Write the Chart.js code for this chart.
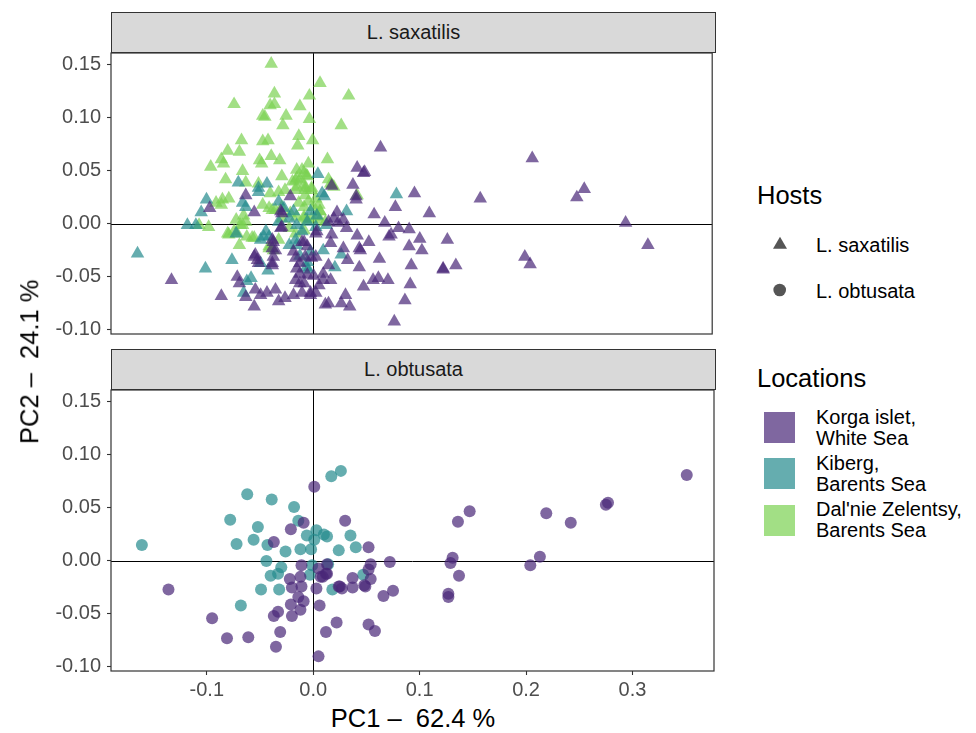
<!DOCTYPE html>
<html>
<head>
<meta charset="utf-8">
<script src="https://cdn.jsdelivr.net/npm/chart.js@4.4.1/dist/chart.umd.min.js"></script>
<style>
  body { margin: 0; background: #fff; font-family: "Liberation Sans", Arial, sans-serif; }
  #wrap { position: relative; width: 976px; height: 733px; overflow: hidden; }
  canvas { position: absolute; left: 0; }
  .strip { position: absolute; left: 111px; width: 605px; height: 41px; box-sizing: border-box;
           background: #d9d9d9; border: 1.2px solid #333; color: #1a1a1a; font-size: 20px;
           text-align: center; line-height: 39px; }
  .txt { position: absolute; white-space: pre; color: #000; }
  .leg { position: absolute; left: 816px; font-size: 20px; line-height: 21px; color: #000; white-space: pre; }
  .sq { position: absolute; left: 764px; width: 31px; height: 31px; }
</style>
</head>
<body>
<div id="wrap">
  <div class="strip" style="top:12px">L. saxatilis</div>
  <div class="strip" style="top:349px">L. obtusata</div>
  <canvas id="topPanel" width="720" height="317" style="top:35px"></canvas>
  <canvas id="botPanel" width="720" height="330" style="top:372px"></canvas>

  <div class="txt" id="xTitle" style="left:113px;width:600px;text-align:center;top:706px;font-size:25.5px;line-height:25.5px"></div>
  <div class="txt" id="yTitle" style="left:-170px;width:400px;text-align:center;top:349px;font-size:25.5px;line-height:25.5px;transform:rotate(-90deg)"></div>

  <div class="txt" style="left:757px;top:183px;font-size:25.5px;line-height:25.5px">Hosts</div>
  <svg style="position:absolute;left:760px;top:230px" width="40" height="75">
    <polygon points="13,18.7 27,18.7 20,6.7" fill="#555"/>
    <circle cx="19.7" cy="60" r="6.3" fill="#555"/>
  </svg>
  <div class="leg" style="top:235px;line-height:20px">L. saxatilis</div>
  <div class="leg" style="top:281px;line-height:20px">L. obtusata</div>

  <div class="txt" style="left:757px;top:366px;font-size:25.5px;line-height:25.5px">Locations</div>
  <div class="sq" style="top:412px;background:rgba(72,38,119,0.7)"></div>
  <div class="sq" style="top:458px;background:rgba(35,138,141,0.7)"></div>
  <div class="sq" style="top:505px;background:rgba(122,209,81,0.7)"></div>
  <div class="leg" style="top:407px">Korga islet,
White Sea</div>
  <div class="leg" style="top:453px">Kiberg,
Barents Sea</div>
  <div class="leg" style="top:499px">Dal'nie Zelentsy,
Barents Sea</div>
</div>

<script>
// axis ranges and ticks
const X_MIN = -0.190, X_MAX = 0.3766;
const Y_MIN = -0.1038, Y_MAX = 0.1613;
const xTicks = [-0.1, 0, 0.1, 0.2, 0.3];
const yTicks = [-0.10, -0.05, 0, 0.05, 0.10, 0.15];
const xTitle = "PC1 \u2013  62.4 %";
const yTitle = "PC2 \u2013  24.1 %";

const locations = ["Korga islet, White Sea", "Kiberg, Barents Sea", "Dal'nie Zelentsy, Barents Sea"];
const locColors = ["rgba(72,38,119,0.7)", "rgba(35,138,141,0.7)", "rgba(122,209,81,0.7)"];

// L. saxatilis (triangles), [PC1, PC2]
const saxKorga = [
  [0.064,0.072],[0.042,0.053],[0.048,0.048],[0.049,0.049],[0.038,0.037],[0.018,0.036],[0.096,0.029],[0.158,0.024],
  [0.041,0.026],[0.041,0.023],[0.078,0.016],[0.058,0.009],[0.110,0.010],[0.023,0.011],[0.068,0.001],[0.081,-0.004],
  [0.074,-0.010],[0.072,-0.012],[0.091,-0.005],[0.101,-0.014],[0.127,-0.015],[0.091,-0.021],[0.103,-0.025],[0.053,-0.017],
  [0.042,-0.011],[0.044,-0.023],[0.045,-0.025],[0.017,-0.018],[0.029,-0.023],[0.033,-0.034],[0.063,-0.033],[0.044,-0.041],
  [0.093,-0.039],[0.123,-0.042],[0.123,-0.043],[0.135,-0.039],[0.015,-0.039],[0.010,-0.047],[0.017,-0.053],[0.057,-0.053],
  [0.062,-0.051],[0.071,-0.053],[0.048,-0.059],[0.092,-0.057],[0.087,-0.072],[0.077,-0.092],[0.031,-0.067],[0.027,-0.075],
  [0.035,-0.078],[0.015,-0.075],[0.012,-0.076],[0.003,-0.065],[-0.002,-0.067],[0.003,-0.031],[-0.001,-0.032],[0.207,0.062],
  [0.256,0.033],[0.249,0.025],[0.295,0.001],[0.316,-0.020],[0.200,-0.031],[0.205,-0.038],[-0.097,0.015],[-0.063,0.027],
  [-0.055,0.011],[-0.133,-0.053],[-0.086,-0.068],[-0.055,-0.031],[-0.052,-0.034],[-0.038,-0.039],[-0.071,-0.050],[-0.069,-0.056],
  [-0.054,-0.062],[-0.049,-0.067],[-0.043,-0.065],[-0.035,-0.062],[-0.032,-0.073],[-0.055,-0.078],[-0.063,-0.069],[-0.018,-0.067],
  [-0.010,-0.065],[-0.002,-0.065],[-0.038,-0.015],[-0.035,-0.025],[-0.030,0.012],[-0.029,0.010],[-0.021,0.026],[-0.018,-0.026],
  [-0.015,-0.042],[-0.010,-0.017],[-0.016,-0.053],[-0.012,-0.056],[0.003,-0.009],[-0.026,-0.070],[-0.054,-0.029],[-0.051,-0.037],
  [-0.038,-0.037],[-0.037,-0.031],[-0.038,-0.023],[-0.037,-0.017],[-0.030,-0.004],[-0.029,-0.003],[-0.016,-0.032],[-0.012,-0.037],
  [-0.008,-0.017],[-0.005,-0.021],[-0.007,-0.031],[-0.012,-0.047],[-0.005,-0.048],[-0.008,-0.056],[0.006,-0.058],[0.004,-0.007],
  [0.020,0.005],[0.029,0.004],[0.032,-0.004],[0.024,0.001],[0.015,0.002],[0.018,-0.010],[0.001,-0.049],[0.010,-0.053]
];
const saxKiberg = [
  [-0.070,0.039],[0.005,0.047],[-0.043,0.038],[0.079,0.028],[-0.165,-0.028],[-0.101,-0.042],[-0.118,-0.001],[-0.110,-0.001],
  [-0.105,0.011],[-0.076,-0.034],[-0.066,0.020],[-0.051,0.030],[-0.058,-0.051],[-0.049,-0.037],[-0.065,-0.065],[-0.042,-0.044],
  [-0.046,-0.012],[-0.072,-0.009],[-0.100,0.023],[-0.063,0.016],[-0.051,0.034],[-0.041,-0.012],[-0.049,-0.015],[-0.044,-0.007],
  [-0.032,0.021],[-0.027,0.015],[-0.032,0.002],[-0.022,0.005],[-0.018,0.012],[-0.015,-0.001],[-0.010,-0.007],[-0.005,0.002],
  [-0.002,0.012],[0.003,-0.003],[0.004,0.008],[-0.022,-0.020],[-0.016,-0.015],[-0.002,-0.026],[-0.005,-0.036],[-0.004,-0.043],
  [-0.062,-0.054],[0.011,0.026],[0.009,0.029],[0.032,0.012],[0.027,-0.029],[0.021,-0.041],[0.013,-0.001],[-0.015,-0.020],
  [-0.012,-0.030],[-0.006,-0.041],[0.010,-0.025]
];
const saxDalnie = [
  [-0.039,0.151],[-0.074,0.113],[-0.036,0.123],[-0.040,0.112],[-0.036,0.113],[-0.003,0.121],[-0.012,0.111],[-0.047,0.102],
  [-0.045,0.101],[-0.025,0.102],[-0.028,0.093],[-0.003,0.099],[-0.067,0.079],[-0.047,0.078],[-0.042,0.079],[-0.013,0.083],
  [-0.014,0.074],[0.000,0.079],[-0.080,0.069],[-0.069,0.068],[-0.086,0.061],[-0.084,0.057],[-0.096,0.054],[-0.050,0.060],
  [-0.048,0.057],[-0.039,0.064],[-0.031,0.060],[-0.066,0.050],[-0.082,0.042],[-0.004,0.057],[-0.029,0.045],[-0.063,0.039],
  [-0.051,0.038],[-0.016,0.041],[-0.010,0.051],[-0.006,0.046],[0.007,0.133],[0.034,0.121],[0.027,0.093],[0.014,0.061],
  [0.015,0.042],[0.018,0.037],[0.042,0.027],[-0.098,-0.003],[-0.107,-0.001],[-0.091,0.020],[-0.086,0.018],[-0.080,-0.009],
  [-0.074,-0.007],[-0.069,-0.020],[-0.063,0.002],[-0.066,-0.001],[-0.057,-0.013],[-0.041,-0.021],[-0.038,0.013],[-0.029,0.016],
  [-0.021,0.010],[-0.015,0.035],[-0.007,0.034],[-0.016,-0.009],[-0.008,-0.006],[-0.085,0.023],[-0.079,0.024],[-0.072,0.004],
  [-0.068,-0.001],[-0.065,0.008],[-0.079,-0.010],[-0.071,-0.009],[-0.062,-0.012],[-0.055,-0.013],[-0.041,-0.023],[-0.037,-0.025],
  [-0.047,0.018],[-0.041,0.015],[-0.035,0.013],[-0.040,0.029],[-0.032,0.030],[-0.026,0.032],[-0.029,0.005],[-0.022,-0.004],
  [-0.032,-0.015],[-0.019,0.040],[-0.015,0.043],[-0.008,0.037],[-0.016,0.032],[-0.007,0.027],[-0.001,0.034],[0.003,0.024],
  [0.006,0.018],[0.007,0.012],[-0.013,0.020],[-0.008,0.016],[-0.004,0.021],[-0.015,0.007],[-0.008,0.005],[-0.001,0.005],
  [0.007,0.004],[-0.015,0.051],[-0.008,0.048],[-0.012,0.042],[-0.005,0.045],[0.017,0.038],[0.020,0.035],[-0.007,0.032],
  [-0.001,0.032],[0.001,0.016],[0.007,0.012],[0.004,0.007],[0.012,0.002],[-0.005,0.004],[-0.008,0.007]
];

// L. obtusata (circles)
const obtKorga = [
  [0.001,0.070],[-0.009,0.036],[-0.021,0.030],[-0.037,0.018],[0.030,0.038],[0.052,0.013],[0.072,-0.001],[0.054,-0.003],
  [0.052,-0.008],[-0.011,-0.004],[0.005,-0.007],[0.013,-0.012],[0.007,-0.015],[-0.022,-0.017],[-0.012,-0.015],[0.054,-0.017],
  [0.048,-0.023],[0.037,-0.016],[0.037,-0.025],[0.027,-0.026],[0.024,-0.024],[0.049,-0.024],[-0.020,-0.025],[-0.011,-0.024],
  [0.003,-0.026],[0.066,-0.033],[0.075,-0.028],[-0.014,-0.034],[-0.009,-0.038],[-0.021,-0.041],[-0.012,-0.046],[0.006,-0.042],
  [-0.033,-0.048],[-0.037,-0.052],[-0.020,-0.052],[0.022,-0.058],[0.012,-0.067],[0.052,-0.060],[0.058,-0.066],[-0.031,-0.067],
  [-0.061,-0.072],[-0.081,-0.073],[-0.095,-0.054],[-0.136,-0.027],[-0.035,-0.081],[0.005,-0.090],[0.351,0.081],[0.277,0.055],
  [0.275,0.053],[0.219,0.045],[0.242,0.036],[0.147,0.047],[0.136,0.037],[0.131,0.003],[0.129,-0.002],[0.137,-0.014],
  [0.127,-0.031],[0.127,-0.034],[0.213,0.004],[0.204,-0.004],[0.025,-0.024],[0.013,-0.003],[0.012,-0.012],[0.009,-0.015]
];
const obtKiberg = [
  [-0.161,0.015],[-0.062,0.063],[-0.039,0.058],[-0.018,0.051],[-0.078,0.039],[-0.052,0.032],[-0.072,0.016],[-0.056,0.020],
  [-0.043,0.015],[-0.026,0.009],[-0.012,0.011],[-0.014,0.038],[-0.006,0.024],[0.003,0.029],[0.010,0.025],[0.013,0.023],
  [0.001,0.020],[-0.002,0.011],[0.024,0.010],[0.035,0.024],[0.040,0.013],[0.017,0.080],[0.026,0.085],[-0.044,0.000],
  [-0.030,-0.006],[-0.033,-0.012],[-0.040,-0.014],[-0.049,-0.027],[-0.032,-0.027],[-0.068,-0.042],[-0.003,-0.013],[0.014,-0.003],
  [0.018,-0.027],[0.047,-0.013],[-0.001,-0.004]
];

const FONT = "'Liberation Sans', Arial, sans-serif";
document.getElementById("xTitle").textContent = xTitle;
document.getElementById("yTitle").textContent = yTitle;

// zero lines + panel border
const panelDecor = {
  id: "panelDecor",
  beforeDatasetsDraw(chart) {
    const { ctx, chartArea: a, scales } = chart;
    const x0 = Math.round(scales.x.getPixelForValue(0)) + 0.5;
    const y0 = Math.round(scales.y.getPixelForValue(0)) + 0.5;
    ctx.save();
    ctx.strokeStyle = "#000";
    ctx.lineWidth = 1;
    ctx.beginPath();
    ctx.moveTo(x0, a.top); ctx.lineTo(x0, a.bottom);
    ctx.moveTo(a.left, y0); ctx.lineTo(a.right, y0);
    ctx.stroke();
    ctx.restore();
  },
  afterDraw(chart) {
    const { ctx, chartArea: a } = chart;
    ctx.save();
    ctx.strokeStyle = "#333";
    ctx.lineWidth = 1.2;
    ctx.strokeRect(a.left, a.top, a.right - a.left, a.bottom - a.top);
    ctx.restore();
  }
};

function toPoints(arr) {
  return arr.map(p => ({ x: p[0], y: p[1] }));
}

function makePanel(id, groups, shape, radius, showX) {
  const datasets = groups.map(g => ({
    label: locations[g.loc],
    data: toPoints(g.data),
    pointStyle: shape,
    pointRadius: radius,
    pointBorderWidth: 0,
    backgroundColor: locColors[g.loc],
    borderColor: "rgba(0,0,0,0)"
  }));

  return new Chart(document.getElementById(id), {
    type: "scatter",
    data: { datasets },
    options: {
      responsive: false,
      animation: false,
      events: [],
      // y tick labels already reserve 18px above/below the plot area;
      // the bottom panel's x axis takes care of its own bottom space
      layout: { padding: { top: 18, right: 4, left: 0, bottom: showX ? 0 : 18 } },
      plugins: { legend: { display: false }, tooltip: { enabled: false } },
      scales: {
        x: {
          type: "linear",
          min: X_MIN, max: X_MAX,
          display: showX,
          afterBuildTicks: s => { s.ticks = xTicks.map(v => ({ value: v })); },
          afterFit: s => { if (showX) s.height = 31; },
          ticks: { callback: v => v.toFixed(1), color: "#4d4d4d", font: { size: 20, family: FONT }, padding: 3, maxRotation: 0 },
          grid: { drawOnChartArea: false, tickLength: 4, tickColor: "#333", tickWidth: 1.1 },
          border: { display: false }
        },
        y: {
          type: "linear",
          min: Y_MIN, max: Y_MAX,
          afterBuildTicks: s => { s.ticks = yTicks.map(v => ({ value: v })); },
          afterFit: s => { s.width = 111; },
          ticks: { callback: v => v.toFixed(2), color: "#4d4d4d", font: { size: 20, family: FONT }, padding: 6 },
          grid: { drawOnChartArea: false, tickLength: 4, tickColor: "#333", tickWidth: 1.1 },
          border: { display: false }
        }
      }
    },
    plugins: [panelDecor]
  });
}

// dataset 0 is drawn last (on top)
makePanel("topPanel", [
  { loc: 0, data: saxKorga },
  { loc: 1, data: saxKiberg },
  { loc: 2, data: saxDalnie }
], "triangle", 7.8, false);

makePanel("botPanel", [
  { loc: 0, data: obtKorga },
  { loc: 1, data: obtKiberg }
], "circle", 6, true);
</script>
</body>
</html>
